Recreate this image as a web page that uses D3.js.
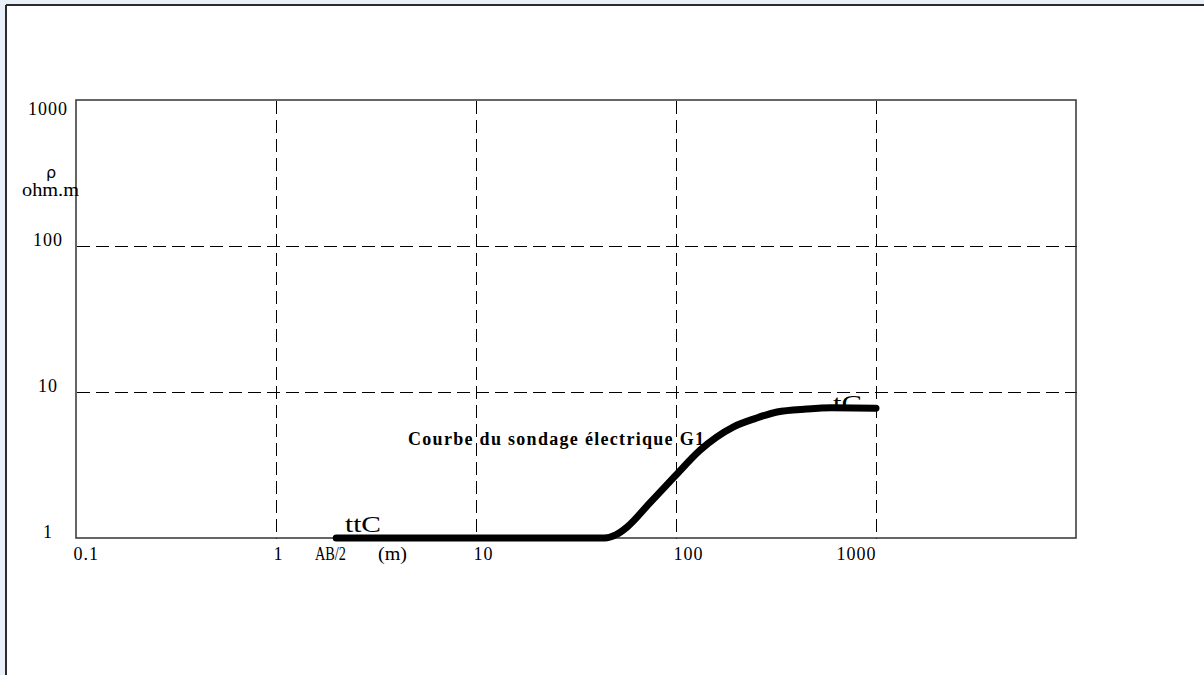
<!DOCTYPE html>
<html>
<head>
<meta charset="utf-8">
<script src="https://cdn.jsdelivr.net/npm/d3@7"></script>
<style>
  html, body { margin: 0; padding: 0; background: #eaf0f8; }
  svg { display: block; }
</style>
</head>
<body>
<svg id="chart" width="1204" height="675"></svg>
<script>
// sounding curve G1 : AB/2 (m) vs apparent resistivity (ohm.m)
const abHalf = [2, 5, 10, 20, 44, 50, 57, 74, 98, 132, 193, 250, 320, 450, 600, 1000];
const rho    = [1, 1, 1, 1, 1, 1.05, 1.19, 1.74, 2.62, 4.0, 5.75, 6.6, 7.3, 7.65, 7.8, 7.75];

const xTicks = [0.1, 1, 10, 100, 1000];
const yTicks = [1, 10, 100, 1000];
const xGrid = [1, 10, 100, 1000];
const yGrid = [10, 100];

const svg = d3.select("#chart");
const serif = "'Liberation Serif', 'Times New Roman', serif";

// window-ish frame
svg.append("rect").attr("x", 7).attr("y", 6).attr("width", 1204).attr("height", 675).attr("fill", "#fff");
svg.append("line").attr("x1", 6).attr("x2", 6).attr("y1", 5).attr("y2", 675).attr("stroke", "#2b2b2b").attr("stroke-width", 2);
svg.append("line").attr("x1", 6).attr("x2", 1204).attr("y1", 5).attr("y2", 5).attr("stroke", "#2b2b2b").attr("stroke-width", 2);

const x = d3.scaleLog().domain([0.1, 10000]).range([76, 1076]);
const y = d3.scaleLog().domain([1, 1000]).range([538, 100]);

// dashed grid
const grid = svg.append("g").attr("transform", "translate(0.5,0.5)")
    .attr("stroke", "#000").attr("stroke-dasharray", "13,6").attr("shape-rendering", "crispEdges");
grid.selectAll("line.v").data(xGrid).join("line").attr("class", "v")
    .attr("x1", d => Math.round(x(d))).attr("x2", d => Math.round(x(d)))
    .attr("y1", y(1000)).attr("y2", y(1));
grid.selectAll("line.h").data(yGrid).join("line").attr("class", "h")
    .attr("x1", x(0.1)).attr("x2", x(10000))
    .attr("y1", d => Math.round(y(d))).attr("y2", d => Math.round(y(d)));

// plot frame
svg.append("rect")
    .attr("x", x(0.1)).attr("y", y(1000))
    .attr("width", x(10000) - x(0.1)).attr("height", y(1) - y(1000))
    .attr("fill", "none").attr("stroke", "#333").attr("stroke-width", 1.5);

// x axis labels
const xAxis = svg.append("g")
    .attr("transform", "translate(0," + y(1) + ")")
    .call(d3.axisBottom(x).tickValues(xTicks).tickSize(0).tickFormat(d => String(d)));
xAxis.select(".domain").remove();
xAxis.selectAll("text")
    .attr("font-family", serif).attr("font-size", 18).attr("letter-spacing", 1)
    .attr("fill", "#000").attr("y", 22).attr("dy", 0)
    .attr("text-anchor", (d, i) => i === xTicks.length - 1 ? "end" : "start")
    .attr("x", (d, i) => i === xTicks.length - 1 ? 0 : -3);

// y axis labels
const yAxis = svg.append("g")
    .attr("transform", "translate(48,0)")
    .call(d3.axisLeft(y).tickValues(yTicks).tickSize(0).tickFormat(d => String(d)));
yAxis.select(".domain").remove();
yAxis.selectAll("text")
    .attr("font-family", serif).attr("font-size", 18).attr("letter-spacing", 1)
    .attr("fill", "#000").attr("text-anchor", "middle").attr("x", 0)
    .attr("dy", d => d === 1000 ? 14 : -1);

// axis titles
svg.append("text").attr("x", 51).attr("y", 178)
    .attr("font-family", "'DejaVu Sans', sans-serif").attr("font-size", 16)
    .attr("text-anchor", "middle").text("ρ");
svg.append("text").attr("x", 22).attr("y", 196)
    .attr("font-family", serif).attr("font-size", 18)
    .attr("textLength", 57).attr("lengthAdjust", "spacingAndGlyphs").text("ohm.m");
svg.append("text").attr("x", 315).attr("y", 560)
    .attr("font-family", serif).attr("font-size", 18)
    .attr("textLength", 31).attr("lengthAdjust", "spacingAndGlyphs").text("AB/2");
svg.append("text").attr("x", 378).attr("y", 560)
    .attr("font-family", serif).attr("font-size", 18)
    .attr("textLength", 29).attr("lengthAdjust", "spacingAndGlyphs").text("(m)");

// annotations
svg.append("text").attr("x", 345).attr("y", 532)
    .attr("font-family", serif).attr("font-size", 24)
    .attr("textLength", 36).attr("lengthAdjust", "spacingAndGlyphs").text("ttC");
svg.append("text").attr("x", 833).attr("y", 411)
    .attr("font-family", serif).attr("font-size", 24)
    .attr("textLength", 29).attr("lengthAdjust", "spacingAndGlyphs").text("tC");
svg.append("text").attr("x", 408).attr("y", 445)
    .attr("font-family", serif).attr("font-size", 18).attr("font-weight", "bold")
    .attr("textLength", 296).attr("lengthAdjust", "spacing").text("Courbe du sondage électrique G1");

// sounding curve
const pts = abHalf.map((a, i) => ({ a: a, r: rho[i] }));
const line = d3.line()
    .x(d => x(d.a))
    .y(d => y(d.r))
    .curve(d3.curveMonotoneX);
svg.append("path")
    .datum(pts)
    .attr("fill", "none")
    .attr("stroke", "#000")
    .attr("stroke-width", 7)
    .attr("stroke-linejoin", "round")
    .attr("stroke-linecap", "round")
    .attr("d", line);
</script>
</body>
</html>
